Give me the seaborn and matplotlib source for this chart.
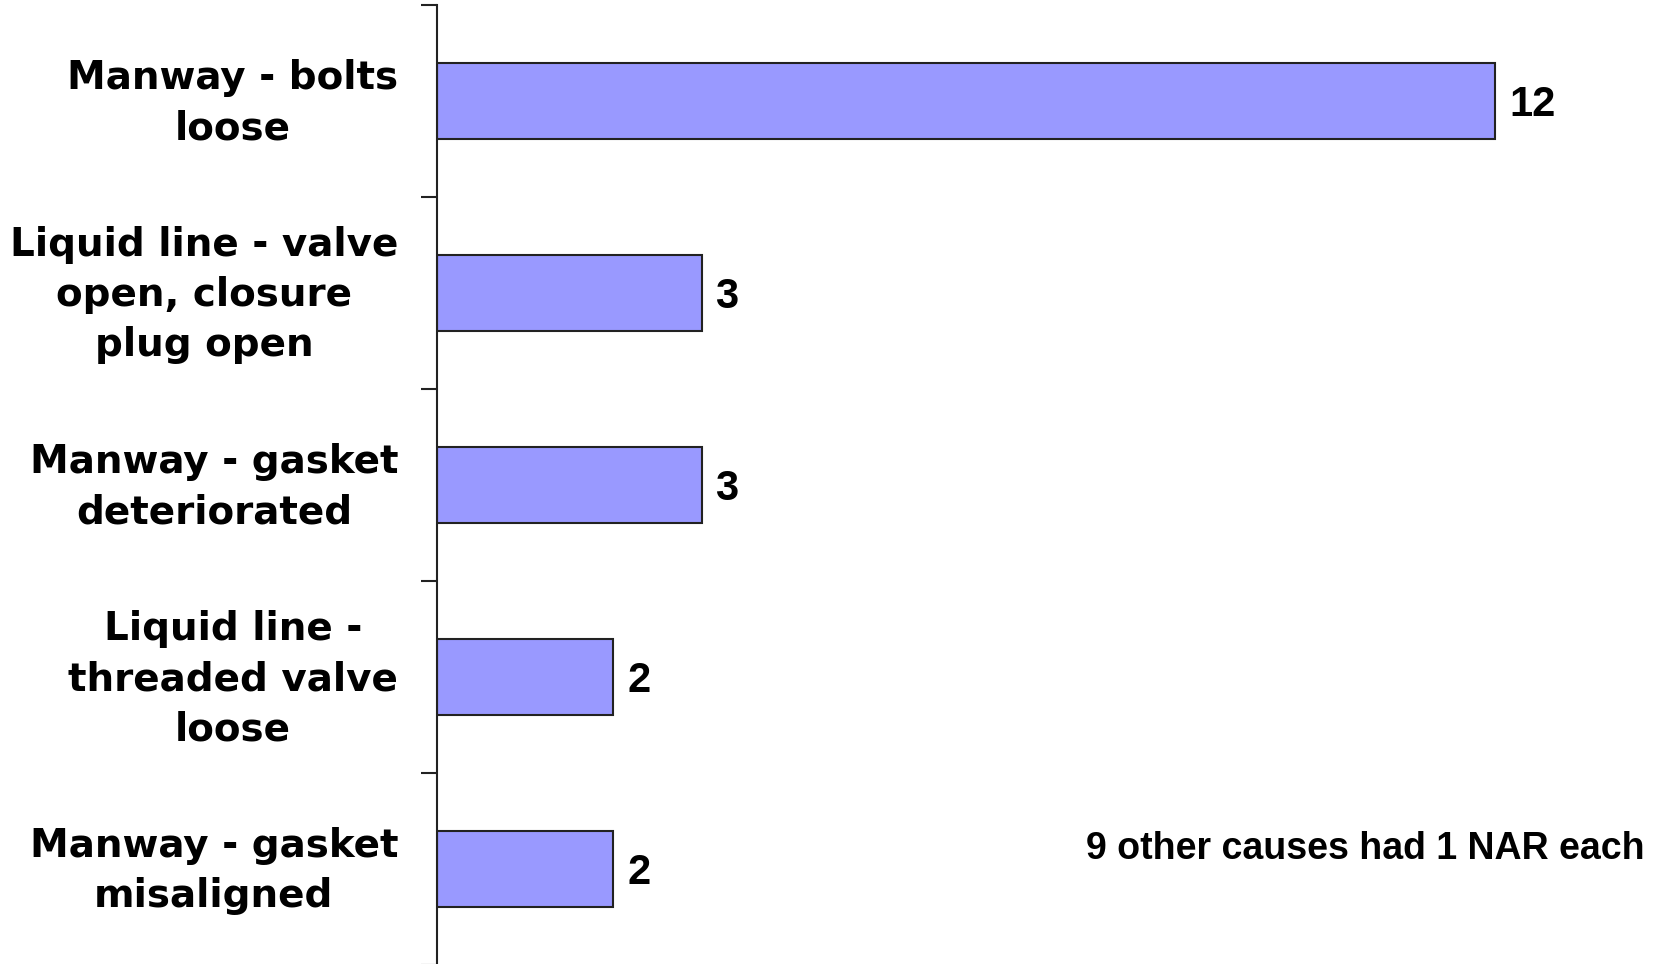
import matplotlib
matplotlib.use("Agg")
import matplotlib.pyplot as plt
import matplotlib.transforms as mtransforms
import seaborn as sns
from matplotlib.ticker import FixedLocator

# Leak causes and the number of NARs for each
causes = [
    "Manway - bolts\nloose",
    "Liquid line - valve\nopen, closure\nplug open",
    "Manway - gasket\ndeteriorated",
    "Liquid line -\nthreaded valve\nloose",
    "Manway - gasket\nmisaligned",
]
counts = [12, 3, 3, 2, 2]
note = "9 other causes had 1 NAR each"

sns.set_theme(style="white")
plt.rcParams["font.family"] = ["DejaVu Sans"]

W, H = 1662, 964
fig = plt.figure(figsize=(W / 100, H / 100), dpi=100)
fig.patch.set_facecolor("white")

ax_left = 437 / W
ax_top = 1 - 5 / H
ax_bottom = -1 / H
ax = fig.add_axes([ax_left, ax_bottom, 1 - ax_left, ax_top - ax_bottom])

sns.barplot(x=counts, y=causes, orient="h", color="#9999FF", saturation=1,
            width=0.4, edgecolor="#222222", linewidth=1.5, ax=ax)

ax.set_xlim(0, (W - 437) / 88.2)
ax.set_ylim(len(causes) - 0.5, -0.5)
ax.set_xlabel("")
ax.set_ylabel("")

# Spines: only the category axis line
for side in ["top", "right", "bottom"]:
    ax.spines[side].set_visible(False)
ax.spines["left"].set_color("#222222")
ax.spines["left"].set_linewidth(1.5)
ax.set_xticks([])

# Category labels at the bar centres, tick marks at the category boundaries
ax.tick_params(axis="y", which="major", length=0, pad=28)
ax.yaxis.set_minor_locator(FixedLocator([i - 0.5 for i in range(len(causes) + 1)]))
ax.tick_params(axis="y", which="minor", length=11.5, width=1.5, color="#222222",
               left=True, direction="out")
lift = mtransforms.ScaledTranslation(0, 8 / 100, fig.dpi_scale_trans)
for lbl in ax.get_yticklabels():
    lbl.set_fontsize(28)
    lbl.set_fontweight("bold")
    lbl.set_color("black")
    lbl.set_multialignment("center")
    lbl.set_linespacing(1.41)
    lbl.set_transform(lbl.get_transform() + lift)

# Value labels at the bar ends
for container in ax.containers:
    anns = ax.bar_label(container, labels=[str(v) for v in counts], padding=10,
                        fontsize=30, fontweight="bold", family="Liberation Sans",
                        color="black")
    for ann in anns:
        ann.xyann = (10, -3)

fig.text(1645 / W, 1 - 849 / H, note, ha="right", va="center",
         fontsize=27, fontweight="bold", family="Liberation Sans", color="black")

fig.savefig("out.png", dpi=100, facecolor="white")
